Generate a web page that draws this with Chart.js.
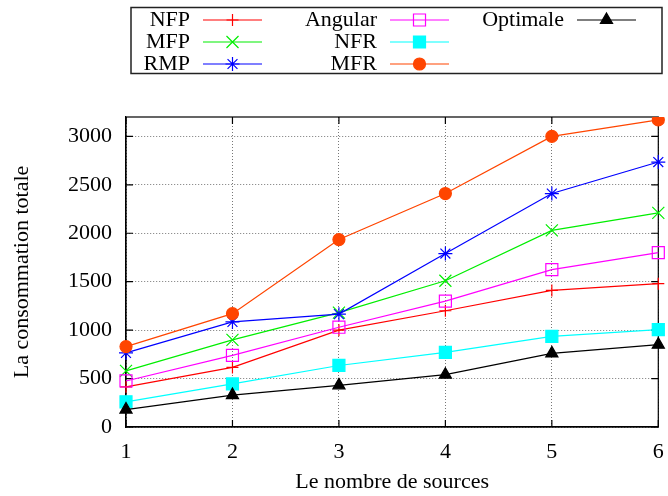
<!DOCTYPE html>
<html>
<head>
<meta charset="utf-8">
<script src="https://cdn.jsdelivr.net/npm/chart.js@4/dist/chart.umd.min.js"></script>
<style>
  html, body { margin: 0; padding: 0; background: #fff; }
  #wrap { width: 668px; height: 496px; }
</style>
</head>
<body>
<div id="wrap"><canvas id="c" width="668" height="496"></canvas></div>
<script>
const categories = ['1', '2', '3', '4', '5', '6'];
const yTicks = [0, 500, 1000, 1500, 2000, 2500, 3000];
const seriesNames = ['NFP', 'MFP', 'RMP', 'Angular', 'NFR', 'MFR', 'Optimale'];
const nfp      = [415, 615, 1000, 1200, 1410, 1480];
const mfp      = [580, 900, 1180, 1510, 2030, 2210];
const rmp      = [765, 1085, 1165, 1790, 2410, 2735];
const angular  = [475, 740, 1030, 1300, 1625, 1800];
const nfr      = [260, 445, 635, 770, 935, 1005];
const mfr      = [830, 1170, 1935, 2410, 3000, 3170];
const optimale = [180, 330, 430, 540, 760, 850];
const xTitle = 'Le nombre de sources';
const yTitle = 'La consommation totale';

const FONT = "'Liberation Serif', 'Times New Roman', serif";
const styles = [
  { color: '#ff0000', style: 'cross',    radius: 6,   fill: '#ff0000' },
  { color: '#00ee00', style: 'crossRot', radius: 8.5, fill: '#00ee00' },
  { color: '#0000ff', style: 'star',     radius: 7,   fill: '#0000ff' },
  { color: '#ff00ff', style: 'rect',     radius: 8.5, fill: 'rgba(0,0,0,0)' },
  { color: '#00ffff', style: 'rect',     radius: 8.5, fill: '#00ffff' },
  { color: '#ff4500', style: 'circle',   radius: 6,   fill: '#ff4500' },
  { color: '#000000', style: 'triangle', radius: 7,   fill: '#000000' }
];
const values = [nfp, mfp, rmp, angular, nfr, mfr, optimale];

const datasets = values.map((v, i) => ({
  label: seriesNames[i],
  data: v,
  borderColor: styles[i].color,
  backgroundColor: styles[i].fill,
  pointBorderColor: styles[i].color,
  pointBackgroundColor: styles[i].fill,
  pointStyle: styles[i].style,
  pointRadius: styles[i].radius,
  pointHoverRadius: styles[i].radius,
  pointBorderWidth: 1.2,
  borderWidth: 1.2,
  tension: 0,
  fill: false,
  order: values.length - i
}));

const frame = {
  id: 'frame',
  beforeDatasetsDraw(chart) {
    const ctx = chart.ctx, a = chart.chartArea;
    const xs = chart.scales.x, ys = chart.scales.y;
    ctx.save();
    ctx.strokeStyle = '#000';
    ctx.lineWidth = 1.2;
    ctx.strokeRect(a.left, a.top, a.right - a.left, a.bottom - a.top);
    const L = 7;
    ctx.beginPath();
    yTicks.forEach(t => {
      const y = ys.getPixelForValue(t);
      ctx.moveTo(a.left, y); ctx.lineTo(a.left + L, y);
      ctx.moveTo(a.right, y); ctx.lineTo(a.right - L, y);
    });
    categories.forEach((c, i) => {
      const x = xs.getPixelForValue(i);
      ctx.moveTo(x, a.bottom); ctx.lineTo(x, a.bottom - L);
      ctx.moveTo(x, a.top); ctx.lineTo(x, a.top + L);
    });
    ctx.stroke();
    ctx.restore();
  },
  afterDraw(chart) {
    const ctx = chart.ctx;
    ctx.save();
    ctx.strokeStyle = '#222';
    ctx.lineWidth = 1.5;
    ctx.strokeRect(131, 7.5, 531, 66);
    const colRight = [190, 377, 564];
    const rowY = [20, 42, 64];
    ctx.font = '22px ' + FONT;
    ctx.textAlign = 'right';
    ctx.textBaseline = 'middle';
    seriesNames.forEach((name, i) => {
      const col = Math.floor(i / 3), row = i % 3;
      const tx = colRight[col], y = rowY[row];
      ctx.fillStyle = '#000';
      ctx.fillText(name, tx, y);
      const x0 = tx + 13, x1 = tx + 72, xm = (x0 + x1) / 2;
      ctx.strokeStyle = styles[i].color;
      ctx.lineWidth = 1.2;
      ctx.beginPath(); ctx.moveTo(x0, y); ctx.lineTo(x1, y); ctx.stroke();
      ctx.fillStyle = styles[i].fill;
      Chart.helpers.drawPoint(ctx, {
        pointStyle: styles[i].style, radius: styles[i].radius,
        rotation: 0, borderWidth: 1.2
      }, xm, y);
    });
    ctx.restore();
  }
};

new Chart(document.getElementById('c'), {
  type: 'line',
  data: { labels: categories, datasets },
  plugins: [frame],
  options: {
    responsive: false,
    animation: false,
    events: [],
    layout: { padding: { left: 0, top: 117, right: 5, bottom: 0 } },
    plugins: { legend: { display: false }, tooltip: { enabled: false } },
    scales: {
      x: {
        type: 'category',
        offset: false,
        grid: { color: '#777', lineWidth: 1, drawTicks: false },
        border: { display: true, color: '#000', width: 1.2, dash: [1, 2] },
        ticks: { color: '#000', font: { family: FONT, size: 22 }, padding: 12, maxRotation: 0 },
        title: { display: true, text: xTitle, color: '#000', font: { family: FONT, size: 22 }, padding: { top: 0, bottom: 1 } },
        afterFit(s) { s.height = 69; s.paddingLeft = 0; s.paddingRight = 0; }
      },
      y: {
        min: 0, max: 3200,
        grid: { color: '#777', lineWidth: 1, drawTicks: false },
        border: { display: true, color: '#000', width: 1.2, dash: [1, 2] },
        afterBuildTicks(s) { s.ticks = yTicks.map(v => ({ value: v })); },
        ticks: { color: '#000', font: { family: FONT, size: 22 }, padding: 14, callback: v => String(v) },
        title: { display: true, text: yTitle, color: '#000', font: { family: FONT, size: 22 }, padding: { top: 9, bottom: 0 } },
        afterFit(s) { s.width = 126; s.paddingTop = 0; s.paddingBottom = 0; }
      }
    }
  }
});
</script>
</body>
</html>
